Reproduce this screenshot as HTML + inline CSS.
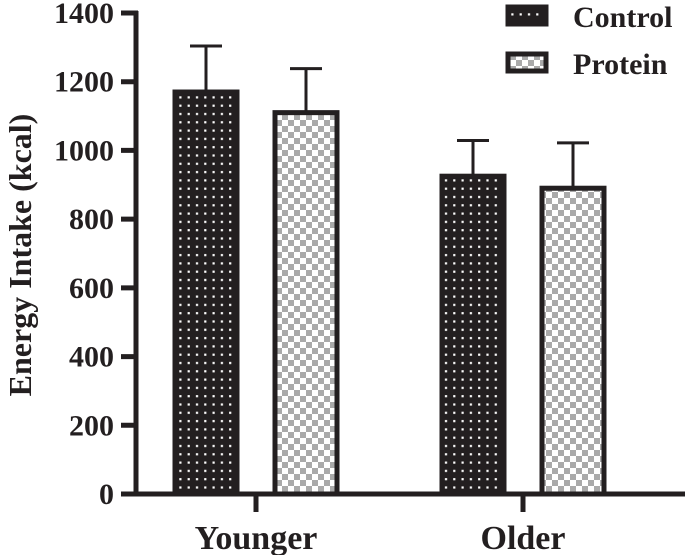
<!DOCTYPE html>
<html><head><meta charset="utf-8"><style>
html,body{margin:0;padding:0;background:#fff;}
svg text{font-family:"Liberation Serif","DejaVu Serif",serif;font-weight:bold;fill:#231f20;}
</style></head><body>
<svg width="685" height="555" viewBox="0 0 685 555" xmlns="http://www.w3.org/2000/svg">
<defs>
<pattern id="dots" width="8.3" height="8.3" patternUnits="userSpaceOnUse" x="2" y="2">
<rect width="8.3" height="8.3" fill="#231f20"/><rect x="3" y="3" width="2.2" height="2.2" fill="#fff"/>
</pattern>
<pattern id="checks" width="12" height="12" patternUnits="userSpaceOnUse">
<rect width="12" height="12" fill="#fff"/><rect width="6" height="6" fill="#aaa"/><rect x="6" y="6" width="6" height="6" fill="#aaa"/>
</pattern>
</defs>
<g id="chart"></g>
</svg>
<script>
const categories = ["Younger","Older"];
const controlValues = [1170, 925];
const controlErrors = [134, 104];
const proteinValues = [1110, 890];
const proteinErrors = [128, 132];
const yTicks = [0,200,400,600,800,1000,1200,1400];

const NS="http://www.w3.org/2000/svg";
const g=document.getElementById('chart');
const y0=494, pxPer=481/1400;
const yScale=v=>y0-v*pxPer;
const groupCenters=[256,523];
const xCenter=i=>groupCenters[0]+i*(groupCenters[1]-groupCenters[0]);
function mk(tag,attrs){const e=document.createElementNS(NS,tag);for(const k in attrs)e.setAttribute(k,attrs[k]);g.appendChild(e);return e;}

let ya=mk('line',{x1:136,y1:11,x2:136,y2:496,stroke:'#231f20','stroke-width':5});


let xa=mk('line',{x1:121,y1:494,x2:685,y2:494,stroke:'#231f20','stroke-width':5});



yTicks.forEach(t=>{
  const y=yScale(t);
  const l=mk('line',{x1:121,y1:y,x2:138,y2:y,stroke:'#231f20','stroke-width':5});
  
  
  const tx=mk('text',{x:114,y:y+10,'text-anchor':'end','font-size':30});
  tx.textContent=t;
  
  
});

categories.forEach((c,i)=>{
  const cx=xCenter(i);
  const tk=mk('line',{x1:cx,y1:494,x2:cx,y2:512,stroke:'#231f20','stroke-width':5});
  
  
  const tx=mk('text',{x:cx,y:549,'text-anchor':'middle','font-size':34});
  tx.textContent=c;
  
  
  const series=[[controlValues,controlErrors,'url(#dots)',-50,'control'],[proteinValues,proteinErrors,'url(#checks)',50,'protein']];
  series.forEach(([vals,errs,fill,off,nm])=>{
    const bx=cx+off, w=62, top=yScale(vals[i]);
    const eb=mk('line',{x1:bx,y1:yScale(vals[i]+errs[i]),x2:bx,y2:top,stroke:'#231f20','stroke-width':3});
    
    
    const cap=mk('line',{x1:bx-16,y1:yScale(vals[i]+errs[i]),x2:bx+16,y2:yScale(vals[i]+errs[i]),stroke:'#231f20','stroke-width':3});
    
    
    const r=mk('rect',{x:bx-w/2,y:top,width:w,height:y0-top,fill:fill,stroke:'#231f20','stroke-width':5});
    
    
  });
});

const yt=mk('text',{x:0,y:0,'text-anchor':'middle','font-size':32,transform:'translate(31,255) rotate(-90)'});
yt.textContent='Energy Intake (kcal)';



[['Control','url(#dots)',5],['Protein','url(#checks)',52]].forEach(([lab,fill,y])=>{
  const r=mk('rect',{x:508,y:y+2,width:38,height:17,fill:fill,stroke:'#231f20','stroke-width':5});
  
  
  const t=mk('text',{x:573,y:y+22,'font-size':30});
  t.textContent=lab;
  
  
});
</script>
</body></html>
